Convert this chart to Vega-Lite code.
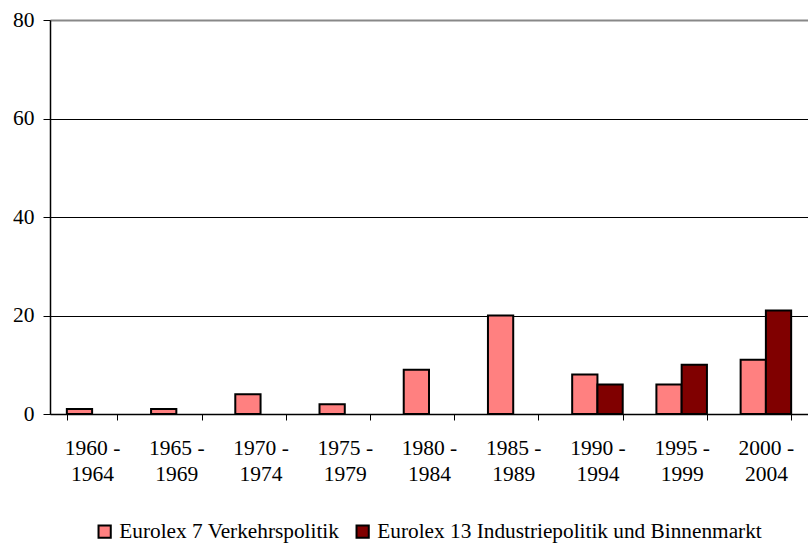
{
  "$schema": "https://vega.github.io/schema/vega-lite/v6.json",
  "width": 758,
  "height": 394,
  "autosize": {"type": "none"},
  "padding": {"left": 50, "top": 20, "right": 0, "bottom": 130},
  "background": "white",
  "config": {
    "view": {"stroke": null},
    "font": "Liberation Serif"
  },
  "data": {
    "values": [
      {"period": "1960 - 1964", "series": "Eurolex 7 Verkehrspolitik", "value": 1},
      {"period": "1965 - 1969", "series": "Eurolex 7 Verkehrspolitik", "value": 1},
      {"period": "1970 - 1974", "series": "Eurolex 7 Verkehrspolitik", "value": 4},
      {"period": "1975 - 1979", "series": "Eurolex 7 Verkehrspolitik", "value": 2},
      {"period": "1980 - 1984", "series": "Eurolex 7 Verkehrspolitik", "value": 9},
      {"period": "1985 - 1989", "series": "Eurolex 7 Verkehrspolitik", "value": 20},
      {"period": "1990 - 1994", "series": "Eurolex 7 Verkehrspolitik", "value": 8},
      {"period": "1995 - 1999", "series": "Eurolex 7 Verkehrspolitik", "value": 6},
      {"period": "2000 - 2004", "series": "Eurolex 7 Verkehrspolitik", "value": 11},
      {"period": "1990 - 1994", "series": "Eurolex 13 Industriepolitik und Binnenmarkt", "value": 6},
      {"period": "1995 - 1999", "series": "Eurolex 13 Industriepolitik und Binnenmarkt", "value": 10},
      {"period": "2000 - 2004", "series": "Eurolex 13 Industriepolitik und Binnenmarkt", "value": 21}
    ]
  },
  "mark": {"type": "bar", "stroke": "black", "strokeWidth": 2},
  "encoding": {
    "x": {
      "field": "period",
      "type": "nominal",
      "sort": null,
      "scale": {"paddingInner": 0.4, "paddingOuter": 0.2},
      "axis": {
        "title": null,
        "labelAngle": 0,
        "labelFont": "Liberation Serif",
        "labelFontSize": 21.5,
        "labelColor": "black",
        "labelPadding": 17,
        "labelLineHeight": 26,
        "labelExpr": "[substring(datum.label,0,6), substring(datum.label,7)]",
        "tickBand": "extent",
        "tickColor": "black",
        "tickSize": 6,
        "domainColor": "black",
        "domainWidth": 1.5
      }
    },
    "xOffset": {
      "field": "series",
      "type": "nominal",
      "scale": {"domain": ["Eurolex 7 Verkehrspolitik", "Eurolex 13 Industriepolitik und Binnenmarkt"], "paddingInner": 0, "paddingOuter": 0}
    },
    "y": {
      "field": "value",
      "type": "quantitative",
      "scale": {"domain": [0, 80]},
      "axis": {
        "title": null,
        "values": [0, 20, 40, 60, 80],
        "labelFont": "Liberation Serif",
        "labelFontSize": 21.5,
        "labelColor": "black",
        "labelPadding": 9,
        "tickColor": "black",
        "tickSize": 7,
        "domainColor": "black",
        "domainWidth": 1.5,
        "grid": true,
        "gridColor": {"condition": {"test": "datum.value == 80", "value": "#888888"}, "value": "black"},
        "gridWidth": {"condition": {"test": "datum.value == 80", "value": 2}, "value": 1}
      }
    },
    "color": {
      "field": "series",
      "type": "nominal",
      "scale": {"domain": ["Eurolex 7 Verkehrspolitik", "Eurolex 13 Industriepolitik und Binnenmarkt"], "range": ["#FF8080", "#800000"]},
      "legend": {
        "title": null,
        "orient": "none",
        "legendX": 44,
        "legendY": 501,
        "direction": "horizontal",
        "symbolType": "square",
        "symbolSize": 150,
        "symbolStrokeColor": "black",
        "symbolStrokeWidth": 2,
        "symbolOpacity": 1,
        "labelFont": "Liberation Serif",
        "labelFontSize": 21.3,
        "labelColor": "black",
        "labelLimit": 0,
        "labelOffset": 4,
        "columnPadding": 12
      }
    }
  }
}
